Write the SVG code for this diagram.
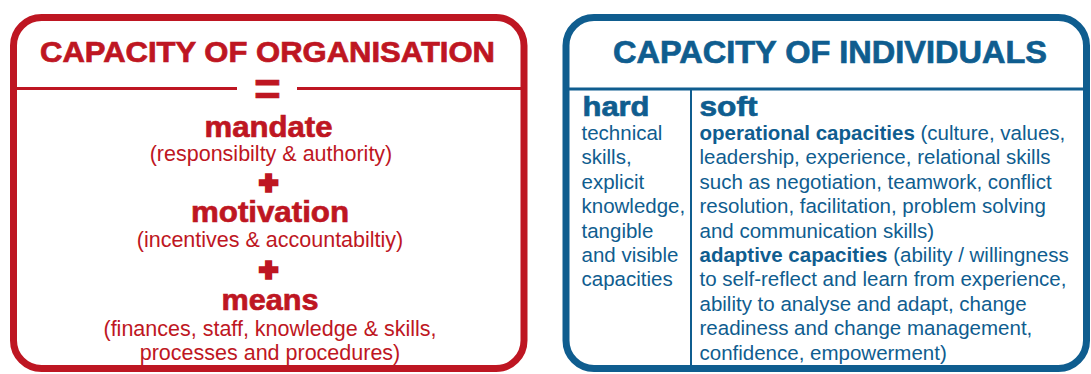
<svg xmlns="http://www.w3.org/2000/svg" width="1091" height="374" viewBox="0 0 1091 374">
<style>
text{font-family:"Liberation Sans",Arial,sans-serif}
.red{fill:#BE1622}
.blue{fill:#0F5D8F}
.box{fill:#fff;stroke-width:7}
.heavy{font-weight:bold;stroke-width:0.7}
.rs{stroke:#BE1622}
.bs{stroke:#0F5D8F}
.par{font-size:21.5px}
.body{font-size:20.5px}
.b{font-weight:bold}
.plus{font-size:32px;font-weight:bold;stroke-width:3.6}
</style>
<g id="organisation">
<rect class="box rs" x="13.5" y="17.5" width="510.5" height="351" rx="28"/>
<text class="red heavy rs" x="267.5" y="62" font-size="29" text-anchor="middle" textLength="455" lengthAdjust="spacingAndGlyphs">CAPACITY OF ORGANISATION</text>
<line class="rs" x1="13.5" y1="88.5" x2="237" y2="88.5" stroke-width="3"/>
<line class="rs" x1="297" y1="88.5" x2="524" y2="88.5" stroke-width="3"/>
<text class="red heavy rs" x="267.5" y="105" font-size="46" stroke-width="1.5" text-anchor="middle">=</text>
<text class="red heavy rs" x="268.5" y="137" font-size="30" text-anchor="middle" textLength="128" lengthAdjust="spacingAndGlyphs">mandate</text>
<text class="red par" x="271" y="161" text-anchor="middle">(responsibilty &amp; authority)</text>
<text class="red plus rs" x="268.5" y="193" text-anchor="middle">+</text>
<text class="red heavy rs" x="270" y="222" font-size="30" text-anchor="middle" textLength="158" lengthAdjust="spacingAndGlyphs">motivation</text>
<text class="red par" x="270" y="247" text-anchor="middle">(incentives &amp; accountabiltiy)</text>
<text class="red plus rs" x="268.5" y="280" text-anchor="middle">+</text>
<text class="red heavy rs" x="270" y="310" font-size="30" text-anchor="middle" textLength="97" lengthAdjust="spacingAndGlyphs">means</text>
<text class="red par" x="270" y="336" text-anchor="middle">(finances, staff, knowledge &amp; skills,</text>
<text class="red par" x="270" y="360" text-anchor="middle">processes and procedures)</text>
</g>
<g id="individuals">
<rect class="box bs" x="566" y="17.5" width="520.5" height="351" rx="28"/>
<text class="blue heavy bs" x="830" y="63" font-size="31.5" text-anchor="middle" textLength="434" lengthAdjust="spacingAndGlyphs">CAPACITY OF INDIVIDUALS</text>
<line class="bs" x1="566" y1="89" x2="1086.5" y2="89" stroke-width="3"/>
<line class="bs" x1="691" y1="89" x2="691" y2="368" stroke-width="2"/>
</g>
<g id="hard">
<text class="blue heavy bs" x="582.5" y="116" font-size="28" textLength="67" lengthAdjust="spacingAndGlyphs">hard</text>
<text class="blue body" x="581.5"><tspan x="581.5" y="140">technical</tspan><tspan x="581.5" y="164.4">skills,</tspan><tspan x="581.5" y="188.8">explicit</tspan><tspan x="581.5" y="213.2">knowledge,</tspan><tspan x="581.5" y="237.6">tangible</tspan><tspan x="581.5" y="262">and visible</tspan><tspan x="581.5" y="286.4">capacities</tspan></text>
</g>
<g id="soft">
<text class="blue heavy bs" x="699.5" y="116" font-size="28" textLength="58" lengthAdjust="spacingAndGlyphs">soft</text>
<text class="blue body" x="699.5"><tspan x="699.5" y="140"><tspan class="b">operational capacities</tspan> (culture, values,</tspan><tspan x="699.5" y="164.4">leadership, experience, relational skills</tspan><tspan x="699.5" y="188.8">such as negotiation, teamwork, conflict</tspan><tspan x="699.5" y="213.2">resolution, facilitation, problem solving</tspan><tspan x="699.5" y="237.6">and communication skills)</tspan><tspan x="699.5" y="262"><tspan class="b">adaptive capacities</tspan> (ability / willingness</tspan><tspan x="699.5" y="286.4">to self-reflect and learn from experience,</tspan><tspan x="699.5" y="310.8">ability to analyse and adapt, change</tspan><tspan x="699.5" y="335.2">readiness and change management,</tspan><tspan x="699.5" y="359.6">confidence, empowerment)</tspan></text>
</g>
<g id="connectors"/>
</svg>
